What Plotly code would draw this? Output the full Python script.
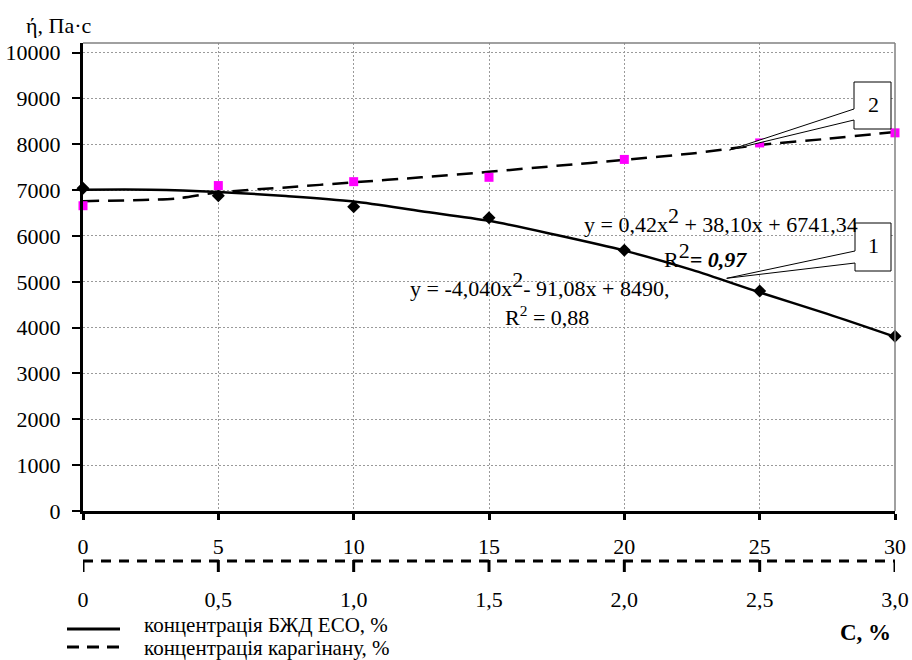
import plotly.graph_objects as go

# ---------------- data ----------------
bzhd_conc = [0, 5, 10, 15, 20, 25, 30]                       # % БЖД ЕСО (upper x axis)
bzhd_visc = [7040, 6880, 6640, 6400, 5690, 4800, 3810]      # Па·с

carag_conc = [0, 0.5, 1.0, 1.5, 2.0, 2.5, 3.0]               # % карагінану (lower x axis)
carag_visc = [6660, 7100, 7185, 7280, 7670, 8030, 8250]     # Па·с

# smooth curves as drawn in the reference
bzhd_curve_x = [0, 2.5, 5, 7.5, 10, 12.5, 15, 17.5, 20, 22.5, 25, 27.5, 30]
bzhd_curve_y = [7010, 7010, 6960, 6870, 6750, 6540, 6330, 6020, 5680, 5260, 4770, 4300, 3800]
carag_curve_x = [0, 0.25, 0.35, 0.5, 0.75, 1.0, 1.25, 1.5, 1.75, 2.0, 2.25, 2.5, 2.75, 3.0]
carag_curve_y = [6760, 6790, 6820, 6950, 7060, 7170, 7280, 7400, 7530, 7660, 7800, 7985, 8120, 8270]

y_ticks = [0, 1000, 2000, 3000, 4000, 5000, 6000, 7000, 8000, 9000, 10000]
y_tick_labels = ["0", "1000", "2000", "3000", "4000", "5000", "6000", "7000", "8000", "9000", "10000"]
x_ticks = [0, 5, 10, 15, 20, 25, 30]
x_tick_labels = ["0", "5", "10", "15", "20", "25", "30"]
x2_ticks = [0, 0.5, 1.0, 1.5, 2.0, 2.5, 3.0]
x2_tick_labels = ["0", "0,5", "1,0", "1,5", "2,0", "2,5", "3,0"]

FS = 22
SUP = f"<sup><span style='font-size:{FS}px'>2</span></sup>"
y_title = "ή, Па·с"
x_title = "С, %"
legend_labels = ["концентрація БЖД ЕСО, %", "концентрація карагінану, %"]
eq1 = "y = 0,42x" + SUP + " + 38,10x + 6741,34"
eq1_r2 = "R" + SUP + "<b><i>= 0,97</i></b>"
eq2 = "y = -4,040x" + SUP + "- 91,08x + 8490,"
eq2_r2 = "R<sup>2</sup> = 0,88"
callout_labels = ["1", "2"]

# ---------------- layout helpers (pixel -> paper) ----------------
W, H = 912, 660
L, R, T, B2 = 83, 895, 43, 561   # plot left/right/top and secondary-axis line y
B = 511                           # main x axis line y
PW = R - L
PH = B2 - T


def PX(x):
    return (x - L) / PW


def PY(y):
    return (B2 - y) / PH


FONT = "Liberation Serif"

fig = go.Figure()

fig.add_trace(go.Scatter(x=bzhd_curve_x, y=bzhd_curve_y, mode="lines",
                         line=dict(color="black", width=2.5, shape="spline", smoothing=0.8),
                         showlegend=False, hoverinfo="skip"))
fig.add_trace(go.Scatter(x=bzhd_conc, y=bzhd_visc, mode="markers", cliponaxis=False,
                         marker=dict(symbol="diamond", size=10, color="black"),
                         showlegend=False))
fig.add_trace(go.Scatter(x=carag_curve_x, y=carag_curve_y, mode="lines", xaxis="x2",
                         line=dict(color="black", width=2.5, dash="16px,9px",
                                   shape="spline", smoothing=0.8),
                         showlegend=False, hoverinfo="skip"))
fig.add_trace(go.Scatter(x=carag_conc, y=carag_visc, mode="markers", xaxis="x2",
                         cliponaxis=False,
                         marker=dict(symbol="square", size=9, color="#ff00ff"),
                         showlegend=False))

grid = dict(showgrid=True, gridcolor="#9a9a9a", griddash="2px,2px", gridwidth=1)
tf = dict(family=FONT, size=FS, color="black")

fig.update_layout(
    width=W, height=H,
    margin=dict(l=L, r=W - R, t=T, b=H - B2, pad=0, autoexpand=False),
    paper_bgcolor="white", plot_bgcolor="white",
    font=dict(family=FONT, size=FS, color="black"),
    showlegend=False,
    xaxis=dict(range=[0, 30], tickvals=x_ticks, ticktext=x_tick_labels,
               anchor="y", showline=True, linecolor="black", linewidth=3,
               ticks="outside", ticklen=6, tickwidth=2.5, tickcolor="black",
               ticklabelstandoff=8, zeroline=False, automargin=False,
               tickfont=tf, **grid),
    xaxis2=dict(range=[0, 3], tickvals=x2_ticks, ticktext=x2_tick_labels,
                overlaying="x", anchor="free", position=0, side="bottom",
                showline=False, showgrid=False, zeroline=False, automargin=False,
                ticks="", ticklabelstandoff=23, tickfont=tf),
    yaxis=dict(range=[0, 10210], tickvals=y_ticks, ticktext=y_tick_labels,
               domain=[(B2 - B) / PH, 1], automargin=False,
               showline=True, linecolor="black", linewidth=3,
               ticks="outside", ticklen=8, tickwidth=2, tickcolor="black",
               ticklabelstandoff=7, zeroline=False, tickfont=tf, **grid),
)

shapes = []
# grey frame top / right
shapes.append(dict(type="line", xref="paper", yref="paper", x0=0, x1=1, y0=1, y1=1,
                   line=dict(color="#808080", width=1.5)))
shapes.append(dict(type="line", xref="paper", yref="paper", x0=1, x1=1, y0=PY(B), y1=1,
                   line=dict(color="#808080", width=1.5)))
# dashed secondary axis line and its tick marks
shapes.append(dict(type="line", xref="x2", yref="paper", x0=0, x1=3, y0=0, y1=0,
                   line=dict(color="black", width=3, dash="10px,8px")))
for t in x2_ticks:
    shapes.append(dict(type="line", xref="x2", yref="paper", x0=t, x1=t,
                       y0=PY(B2 - 1), y1=PY(B2 + 11),
                       line=dict(color="black", width=3)))


def callout(bx0, bx1, by0, by1, e0, e1, tipx, tipy):
    p = (f"M{PX(bx0)},{PY(by0)} L{PX(bx0)},{PY(e0)} L{PX(tipx)},{PY(tipy)} "
         f"L{PX(bx0)},{PY(e1)} L{PX(bx0)},{PY(by1)} L{PX(bx1)},{PY(by1)} "
         f"L{PX(bx1)},{PY(by0)} Z")
    return dict(type="path", xref="paper", yref="paper", path=p, fillcolor="white",
                line=dict(color="black", width=1), layer="above")


shapes.append(callout(854, 891, 82, 129, 109, 120, 729.5, 150))
shapes.append(callout(855, 891, 223, 271, 251, 263, 726.7, 278.3))

# manual legend samples
shapes.append(dict(type="line", xref="paper", yref="paper", x0=PX(67), x1=PX(120),
                   y0=PY(629), y1=PY(629), line=dict(color="black", width=3)))
shapes.append(dict(type="line", xref="paper", yref="paper", x0=PX(67), x1=PX(120),
                   y0=PY(647), y1=PY(647), line=dict(color="black", width=3, dash="12px,8px")))
fig.update_layout(shapes=shapes)

ann = []


def text(t, x, y, anchor="left", size=FS, **kw):
    ann.append(dict(text=t, xref="paper", yref="paper", x=PX(x), y=PY(y),
                    xanchor=anchor, yanchor="middle", showarrow=False, borderpad=0,
                    font=dict(family=FONT, size=size, color="black"), **kw))


text(y_title, 25, 25)
text("<b>" + x_title + "</b>", 892, 632, anchor="right", size=FS + 1)
text(legend_labels[0], 143, 625, size=21)
text(legend_labels[1], 143, 648, size=21)
text(eq1, 859, 220, anchor="right")
text(eq1_r2, 663, 255)
text(eq2, 409, 284)
text(eq2_r2, 504, 316)
text(callout_labels[1], 873, 104, anchor="center")
text(callout_labels[0], 873, 245, anchor="center")
fig.update_layout(annotations=ann)

fig.write_html("out.html", config={"displayModeBar": False},
               post_script="document.body.style.margin='0px';document.body.style.overflow='hidden';")
